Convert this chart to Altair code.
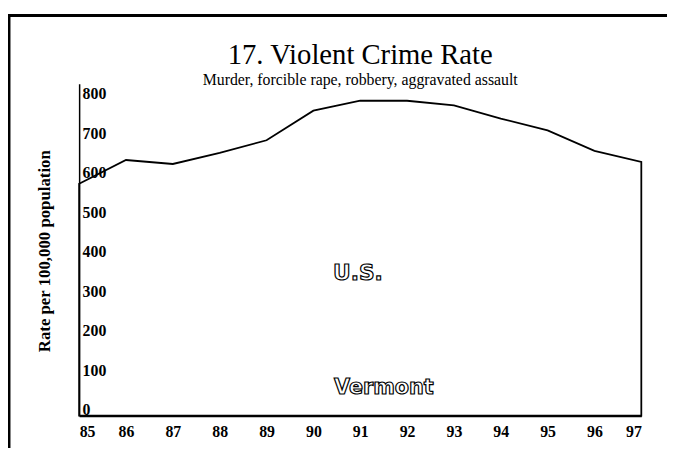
import altair as alt
import pandas as pd

# ---- data ----
years = [85, 86, 87, 88, 89, 90, 91, 92, 93, 94, 95, 96, 97]
us_rate = [572, 632, 622, 650, 682, 757, 782, 782, 770, 737, 707, 655, 627]
y_ticks = [0, 100, 200, 300, 400, 500, 600, 700, 800]

df = pd.DataFrame({"year": years, "rate": us_rate})
one = pd.DataFrame({"k": [0]})

W, H = 569, 336
SERIF = "Liberation Serif"

x_scale = alt.Scale(domain=[85, 97], nice=False, zero=False)
y_scale = alt.Scale(domain=[-15, 825], nice=False, zero=False)

area = alt.Chart(df).mark_area(
    fillOpacity=0, stroke="black", strokeWidth=1.8, interpolate="linear"
).encode(
    x=alt.X("year:Q", scale=x_scale, axis=alt.Axis(
        values=years, format="d", title=None, ticks=False, labelPadding=8,
        labelFont=SERIF, labelFontSize=16, labelFontWeight="bold", labelColor="black",
        labelFlush=True, domainColor="black", domainWidth=2, grid=False)),
    y=alt.Y("rate:Q", scale=y_scale, axis=alt.Axis(
        values=y_ticks, format="d", ticks=False, tickSize=0, labelPadding=-3,
        labelAlign="left", labelBaseline="middle",
        labelFont=SERIF, labelFontSize=16, labelFontWeight="bold", labelColor="black",
        domainColor="black", domainWidth=1.5, grid=False,
        title="Rate per 100,000 population", titleFont=SERIF, titleFontSize=17,
        titleFontWeight="bold", titleColor="black", titleAngle=270,
        titleX=-30, titleY=169, titleAlign="center", titleBaseline="alphabetic")),
    y2=alt.datum(-15),
)

def outlined(text, xv, yv, size):
    return alt.Chart(one).mark_text(
        align="left", baseline="middle", font="DejaVu Sans", fontWeight="bold",
        fontSize=size, fill="#ffffff", stroke="#000000", strokeWidth=1.2
    ).encode(x=alt.datum(xv), y=alt.datum(yv), text=alt.value(text))

us_label = outlined("U.S.", 90.42, 345, 22)
vt_label = outlined("Vermont", 90.44, 55, 21)

frame = alt.Chart(one).mark_rect(
    fillOpacity=0, stroke="black", strokeWidth=3
).encode(
    x=alt.value(-71), x2=alt.value(W + 80), y=alt.value(-69), y2=alt.value(H + 80)
)

chart = alt.layer(frame, area, us_label, vt_label).properties(
    width=W, height=H,
    title=alt.Title(
        "17. Violent Crime Rate",
        subtitle="Murder, forcible rape, robbery, aggravated assault",
        font=SERIF, fontSize=29, fontWeight="normal", color="black",
        subtitleFont=SERIF, subtitleFontSize=16, subtitleColor="black",
        anchor="middle", offset=-75, subtitlePadding=2,
    ),
    autosize=alt.AutoSizeParams(type="none"),
    padding={"left": 72, "top": 74, "right": 26, "bottom": 30},
    background="white",
).configure_view(stroke=None)

chart.save("out.html", embed_options={"renderer": "svg", "actions": False})
